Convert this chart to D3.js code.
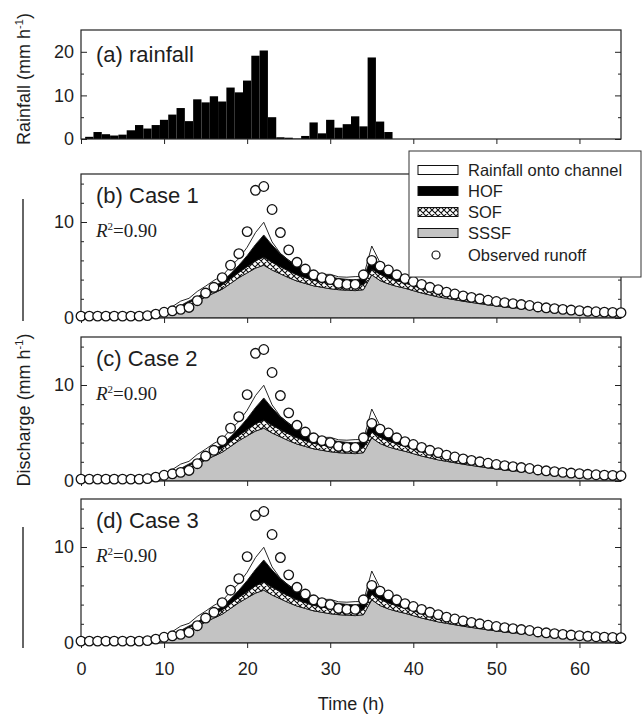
<!DOCTYPE html>
<html>
<head>
<meta charset="utf-8">
<script src="https://cdn.jsdelivr.net/npm/d3@7"></script>
<style>
  body { margin: 0; background: #fff; }
  svg { display: block; }
  text { font-family: "Liberation Sans", Arial, sans-serif; fill: #1e1e1e; }
  .serif { font-family: "Liberation Serif", "Times New Roman", serif; }
</style>
</head>
<body>
<svg id="chart" width="643" height="715"></svg>
<script>
// Hourly time index of the simulation (h)
const hours = d3.range(0, 66);

// Hourly rainfall (mm h-1), bars centred on hours 1..37
const rainHours = d3.range(1, 38);
const rainfall = [0.5, 1.6, 1.1, 0.8, 1.0, 2.0, 3.2, 2.4, 3.2, 4.4,
                  5.6, 7.1, 4.1, 9.1, 8.4, 9.8, 8.6, 11.8, 10.7, 13.4,
                  19.1, 20.3, 5.0, 0.4, 0.3, 0.1, 0.7, 3.8, 1.3, 4.4,
                  2.6, 3.4, 5.2, 2.9, 18.7, 4.0, 1.6];

// Simulated discharge components (mm h-1), stacked from bottom to top
const sssf = [0.05, 0.05, 0.05, 0.05, 0.05, 0.05, 0.06, 0.07, 0.09, 0.15,
              0.3, 0.6, 1.0, 1.4, 1.7, 2.2, 2.6, 3.0, 3.6, 4.2,
              4.7, 5.2, 5.5, 5.0, 4.6, 4.2, 3.85, 3.6, 3.35, 3.2,
              3.05, 2.95, 2.9, 2.85, 2.95, 4.5, 3.9, 3.55, 3.3, 3.1,
              2.85, 2.6, 2.4, 2.2, 2.05, 1.9, 1.75, 1.62, 1.5, 1.38,
              1.27, 1.18, 1.09, 1.01, 0.94, 0.87, 0.81, 0.75, 0.7, 0.65,
              0.6, 0.56, 0.52, 0.48, 0.45, 0.42];
const sof = [0.02, 0.02, 0.02, 0.02, 0.02, 0.02, 0.02, 0.03, 0.03, 0.05,
             0.1, 0.15, 0.2, 0.25, 0.3, 0.35, 0.4, 0.45, 0.5, 0.55,
             0.65, 0.75, 0.85, 0.8, 0.75, 0.7, 0.65, 0.6, 0.57, 0.55,
             0.53, 0.52, 0.5, 0.5, 0.52, 0.6, 0.65, 0.62, 0.58, 0.55,
             0.52, 0.49, 0.46, 0.43, 0.4, 0.37, 0.35, 0.33, 0.31, 0.29,
             0.27, 0.25, 0.23, 0.22, 0.21, 0.2, 0.19, 0.18, 0.17, 0.16,
             0.15, 0.14, 0.13, 0.12, 0.12, 0.11];
const hof = [0.02, 0.02, 0.02, 0.02, 0.02, 0.02, 0.02, 0.02, 0.02, 0.03,
             0.05, 0.08, 0.1, 0.13, 0.18, 0.22, 0.28, 0.36, 0.5, 0.75,
             1.15, 1.7, 2.3, 1.8, 1.35, 1.1, 0.95, 0.85, 0.75, 0.7,
             0.68, 0.65, 0.63, 0.62, 0.66, 1.4, 0.95, 0.78, 0.65, 0.56,
             0.48, 0.42, 0.36, 0.31, 0.27, 0.23, 0.2, 0.17, 0.15, 0.13,
             0.12, 0.1, 0.09, 0.08, 0.07, 0.06, 0.05, 0.05, 0.05, 0.05,
             0.05, 0.04, 0.04, 0.04, 0.04, 0.04];
const rainOnChannel = [0, 0.03, 0.1, 0.07, 0.05, 0.07, 0.13, 0.21, 0.16, 0.21,
                       0.29, 0.36, 0.46, 0.27, 0.59, 0.55, 0.64, 0.56, 0.77, 0.7,
                       0.87, 1.24, 1.32, 0.33, 0.03, 0.02, 0.01, 0.05, 0.25, 0.08,
                       0.29, 0.17, 0.22, 0.34, 0.19, 1.0, 0.26, 0.1, 0, 0,
                       0, 0, 0, 0, 0, 0, 0, 0, 0, 0,
                       0, 0, 0, 0, 0, 0, 0, 0, 0, 0,
                       0, 0, 0, 0, 0, 0];

// Observed runoff at the outlet (mm h-1)
const observed = [0.2, 0.2, 0.2, 0.2, 0.2, 0.2, 0.2, 0.2, 0.25, 0.4,
                  0.6, 0.75, 0.9, 1.1, 1.8, 2.6, 3.2, 4.2, 5.5, 6.7,
                  9.0, 13.3, 13.7, 11.3, 8.9, 7.1, 5.8, 5.1, 4.5, 4.2,
                  4.0, 3.6, 3.5, 3.5, 4.5, 6.0, 5.4, 5.0, 4.5, 4.1,
                  3.8, 3.5, 3.2, 2.95, 2.7, 2.5, 2.3, 2.15, 2.0, 1.85,
                  1.72, 1.6, 1.5, 1.4, 1.3, 1.15, 1.06, 0.98, 0.9, 0.83,
                  0.76, 0.7, 0.65, 0.61, 0.58, 0.55];

const caseLabels = ["(b) Case 1", "(c) Case 2", "(d) Case 3"];
const r2Values = ["0.90", "0.90", "0.90"];
const legendLabels = ["Rainfall onto channel", "HOF", "SOF", "SSSF", "Observed runoff"];
const xTicks = [0, 10, 20, 30, 40, 50, 60];

const svg = d3.select("#chart");
const defs = svg.append("defs");

// Cross-hatch fill for SOF
const hatch = defs.append("pattern")
  .attr("id", "hatch").attr("patternUnits", "userSpaceOnUse")
  .attr("width", 6).attr("height", 6);
hatch.append("rect").attr("width", 6).attr("height", 6).attr("fill", "#fff");
hatch.append("path").attr("d", "M0,0L6,6M0,6L6,0M-1,5L1,7M5,-1L7,1M-1,1L1,-1M5,7L7,5")
  .attr("stroke", "#111").attr("stroke-width", 1.1);

const left = 81, right = 621;
const x = d3.scaleLinear().domain([0, 65]).range([left, right]);

// ---------- (a) rainfall ----------
const rainTop = 30, rainBottom = 139;
const yRain = d3.scaleLinear().domain([0, 25]).range([rainBottom, rainTop]);
const gA = svg.append("g");
gA.selectAll("rect.bar").data(rainHours).join("rect")
  .attr("class", "bar")
  .attr("x", (t) => x(t - 0.5))
  .attr("width", x(1) - x(0))
  .attr("y", (t, i) => yRain(rainfall[i]))
  .attr("height", (t, i) => yRain(0) - yRain(rainfall[i]))
  .attr("fill", "#000");

function styleAxis(g) {
  g.select(".domain").remove();
  g.selectAll("line").attr("stroke", "#222").attr("stroke-width", 1);
  g.selectAll("text").attr("fill", "#1e1e1e").style("font-size", "18px");
}

gA.append("g").attr("transform", `translate(${left},0)`)
  .call(d3.axisLeft(yRain).tickValues([0, 10, 20]).tickSize(-6).tickPadding(7))
  .call(styleAxis);
gA.append("g").attr("transform", `translate(${left},0)`)
  .call(d3.axisLeft(yRain).tickValues([5, 15]).tickSize(-3).tickFormat(""))
  .call(styleAxis);
gA.append("g").attr("transform", `translate(${right},0)`)
  .call(d3.axisRight(yRain).tickValues([0, 10, 20]).tickSize(-6).tickFormat(""))
  .call(styleAxis);
gA.append("g").attr("transform", `translate(${right},0)`)
  .call(d3.axisRight(yRain).tickValues([5, 15]).tickSize(-3).tickFormat(""))
  .call(styleAxis);
gA.append("g").attr("transform", `translate(0,${rainBottom})`)
  .call(d3.axisBottom(x).tickValues(xTicks).tickSize(5).tickFormat(""))
  .call(styleAxis);
gA.append("rect").attr("x", left).attr("y", rainTop)
  .attr("width", right - left).attr("height", rainBottom - rainTop)
  .attr("fill", "none").attr("stroke", "#222").attr("stroke-width", 1.2);
gA.append("text").attr("x", 96).attr("y", 62).style("font-size", "22px").text("(a) rainfall");

// ---------- discharge panels ----------
const panelTops = [174, 337, 499];
const panelH = 144;

const cum1 = sssf;
const cum2 = sssf.map((v, i) => v + sof[i]);
const cum3 = cum2.map((v, i) => v + hof[i]);
const cum4 = cum3.map((v, i) => v + rainOnChannel[i]);

caseLabels.forEach((label, p) => {
  const top = panelTops[p], bottom = top + panelH;
  const y = d3.scaleLinear().domain([0, 15]).range([bottom, top]);
  const g = svg.append("g");

  const clipId = "clip" + p;
  defs.append("clipPath").attr("id", clipId)
    .append("rect").attr("x", left).attr("y", top).attr("width", right - left).attr("height", panelH);

  const layers = [
    { lo: cum3, hi: cum4, fill: "#fff" },
    { lo: cum2, hi: cum3, fill: "#000" },
    { lo: cum1, hi: cum2, fill: "url(#hatch)" },
    { lo: null, hi: cum1, fill: "#c3c3c3" }
  ];
  const plot = g.append("g").attr("clip-path", `url(#${clipId})`);
  layers.slice().reverse().forEach((L) => {
    const area = d3.area()
      .x((t) => x(t))
      .y0((t, i) => y(L.lo ? L.lo[i] : 0))
      .y1((t, i) => y(L.hi[i]));
    plot.append("path").datum(hours)
      .attr("d", area)
      .attr("fill", L.fill)
      .attr("stroke", "#111").attr("stroke-width", 0.9)
      .attr("stroke-linejoin", "round");
  });

  // axes
  g.append("g").attr("transform", `translate(${left},0)`)
    .call(d3.axisLeft(y).tickValues([0, 10]).tickSize(-6).tickPadding(7))
    .call(styleAxis);
  g.append("g").attr("transform", `translate(${left},0)`)
    .call(d3.axisLeft(y).tickValues([2, 4, 6, 8, 12, 14]).tickSize(-3).tickFormat(""))
    .call(styleAxis);
  g.append("g").attr("transform", `translate(${right},0)`)
    .call(d3.axisRight(y).tickValues([0, 10]).tickSize(-6).tickFormat(""))
    .call(styleAxis);
  g.append("g").attr("transform", `translate(${right},0)`)
    .call(d3.axisRight(y).tickValues([2, 4, 6, 8, 12, 14]).tickSize(-3).tickFormat(""))
    .call(styleAxis);
  const xa = d3.axisBottom(x).tickValues(xTicks).tickSize(5).tickPadding(14);
  if (p < 2) xa.tickFormat("");
  g.append("g").attr("transform", `translate(0,${bottom})`).call(xa).call(styleAxis);

  g.append("rect").attr("x", left).attr("y", top)
    .attr("width", right - left).attr("height", panelH)
    .attr("fill", "none").attr("stroke", "#222").attr("stroke-width", 1.2);

  // observed runoff
  g.selectAll("circle.obs").data(hours).join("circle")
    .attr("class", "obs")
    .attr("cx", (t) => x(t))
    .attr("cy", (t, i) => y(observed[i]))
    .attr("r", 4.8)
    .attr("fill", "#fff").attr("stroke", "#111").attr("stroke-width", 1.3);

  g.append("text").attr("x", 96).attr("y", top + 29).style("font-size", "22px").text(label);
  const r2 = g.append("text").attr("class", "serif").attr("x", 96).attr("y", top + 63)
    .style("font-size", "19px");
  r2.append("tspan").style("font-style", "italic").text("R");
  r2.append("tspan").attr("dy", -7).style("font-size", "11px").text("2");
  r2.append("tspan").attr("dy", 7).text("=" + r2Values[p]);
});

// x axis title
svg.append("text").attr("x", (left + right) / 2).attr("y", 710)
  .attr("text-anchor", "middle").style("font-size", "18px").text("Time (h)");

// y axis titles
function yTitle(cy, main) {
  const t = svg.append("text")
    .attr("transform", `translate(30,${cy}) rotate(-90)`)
    .attr("text-anchor", "middle").style("font-size", "18px");
  t.append("tspan").text(main + " (mm h");
  t.append("tspan").attr("dy", -7).style("font-size", "11px").text("-1");
  t.append("tspan").attr("dy", 7).text(")");
}
yTitle(79, "Rainfall");
yTitle(410, "Discharge");
svg.append("line").attr("x1", 23).attr("x2", 23).attr("y1", 199).attr("y2", 321)
  .attr("stroke", "#333").attr("stroke-width", 1.5);
svg.append("line").attr("x1", 23).attr("x2", 23).attr("y1", 527).attr("y2", 648)
  .attr("stroke", "#333").attr("stroke-width", 1.5);

// ---------- legend ----------
const lg = svg.append("g");
lg.append("rect").attr("x", 409).attr("y", 151).attr("width", 232).attr("height", 126)
  .attr("fill", "#fff").attr("stroke", "#333").attr("stroke-width", 1);
const swFills = ["#fff", "#000", "url(#hatch)", "#c3c3c3"];
const rowY = [170, 191, 212, 233, 255];
legendLabels.forEach((lab, i) => {
  if (i < 4) {
    lg.append("rect").attr("x", 418).attr("y", rowY[i] - 4.5).attr("width", 40).attr("height", 9)
      .attr("fill", swFills[i]).attr("stroke", "#111").attr("stroke-width", 1);
  } else {
    lg.append("circle").attr("cx", 436).attr("cy", rowY[i]).attr("r", 4)
      .attr("fill", "#fff").attr("stroke", "#111").attr("stroke-width", 1.2);
  }
  lg.append("text").attr("x", 468).attr("y", rowY[i] + 6).style("font-size", "16.5px").text(lab);
});
</script>
</body>
</html>
